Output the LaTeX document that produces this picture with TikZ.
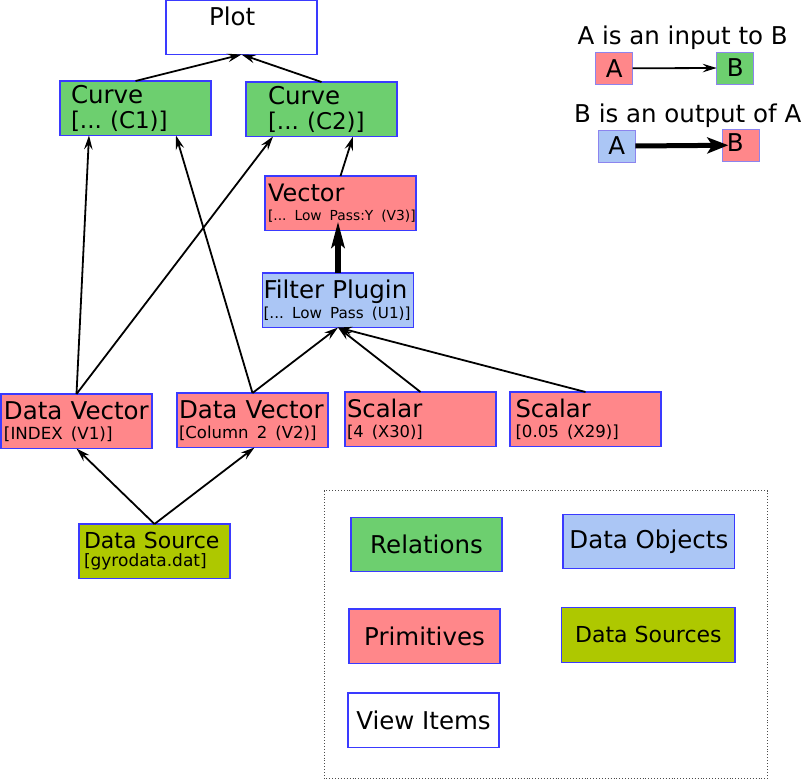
\documentclass[tikz,border=0pt]{standalone}
\usepackage{fontspec}
\setmainfont{DejaVu Sans}
\usetikzlibrary{arrows.meta,calc}
\definecolor{relgreen}{HTML}{6DCF6F}
\definecolor{primred}{HTML}{FF878A}
\definecolor{objblue}{HTML}{ABC6F5}
\definecolor{srcolive}{HTML}{AEC800}
\definecolor{edgeblue}{HTML}{3A3AFF}
\definecolor{edgelight}{HTML}{8C84EE}
\newcommand\fsz[2]{\fontsize{#1}{#2}\selectfont}
\frenchspacing
\tikzset{
  box/.style={draw=edgeblue, line width=1.2pt, minimum width=151pt, minimum height=54.5pt,
    anchor=north west, inner ysep=0pt, outer sep=0pt},
  rel/.style={box, fill=relgreen},
  prim/.style={box, fill=primred},
  obj/.style={box, fill=objblue},
  src/.style={box, fill=srcolive},
  view/.style={box, fill=white},
  tiny/.style={draw=edgelight, line width=1pt, minimum width=37pt, minimum height=32pt,
    anchor=north west, inner sep=0pt, outer sep=0pt, font=\fsz{24.5}{25}},
  conn/.style={line width=1.8pt, -{Stealth[length=14pt,width=8.5pt,inset=5pt]}},
  thickconn/.style={line width=5.7pt, -{Stealth[length=26pt,width=13pt,inset=5pt]}, shorten >=-9pt},
  keythick/.style={line width=5pt, -{Stealth[length=21pt,width=16pt,inset=5pt]}, shorten >=-6pt},
  ttl/.style={anchor=base west, inner sep=0pt, font=\fsz{24.5}{25}},
}
\begin{document}
\begin{tikzpicture}[x=1pt,y=-1pt]
\useasboundingbox (0,0) rectangle (804,779);

% main diagram
\node[view, inner xsep=43pt, text width=65pt, align=left, text depth=23pt, font=\fsz{24.5}{25}] (plot) at (166,0) {Plot};
\node[rel, inner xsep=11pt, text width=129pt, align=left, font=\fsz{24.5}{24.5}] (c1) at (60,81) {\mbox{Curve}\\{\fsz{23}{24.5}\mbox{[... (C1)]}}};
\node[rel, inner xsep=22pt, text width=107pt, align=left, font=\fsz{24.5}{24.5}] (c2) at (246,82) {\mbox{Curve}\\{\fsz{23}{24.5}\mbox{[... (C2)]}}};
\node[prim, inner xsep=3pt, text width=145pt, align=left, font=\fsz{24}{19.5}] (v3) at (265,176) {\mbox{Vector}\\{\fsz{13.8}{19.5}\mbox{[... Low Pass:Y (V3)]}}};
\node[obj, inner xsep=1pt, text width=149pt, align=left, font=\fsz{24.5}{20}] (filt) at (262.5,273) {\mbox{Filter Plugin}\\{\fsz{15.2}{20}\mbox{[... Low Pass (U1)]}}};
\node[prim, inner xsep=3pt, text width=145pt, align=left, font=\fsz{24.5}{20}] (v1) at (1,394) {\mbox{Data Vector}\\{\fsz{16.7}{20}\mbox{[INDEX (V1)]}}};
\node[prim, inner xsep=2pt, text width=147pt, align=left, font=\fsz{24.5}{20}] (v2) at (177,393) {\mbox{Data Vector}\\{\fsz{16.5}{20}\mbox{[Column 2 (V2)]}}};
\node[prim, inner xsep=2pt, text width=147pt, align=left, font=\fsz{24.3}{20}] (x30) at (345,392) {\mbox{Scalar}\\{\fsz{16.3}{20}\mbox{[4 (X30)]}}};
\node[prim, inner xsep=5.5pt, text width=140pt, align=left, font=\fsz{24.3}{20}] (x29) at (510,392) {\mbox{Scalar}\\{\fsz{16.6}{20}\mbox{[0.05 (X29)]}}};
\node[src, inner xsep=5pt, text width=141pt, align=left, font=\fsz{22}{18.6}] (ds) at (79,524) {\mbox{Data Source}\\{\fsz{17}{18.6}\mbox{[gyrodata.dat]}}};

% connectors
\draw[conn] (c1.north) -- (plot.south);
\draw[conn] (c2.north) -- (plot.south);
\draw[conn] (v1.north) -- ($(c1.south west)+(29,0)$);
\draw[conn] (v2.north) -- ($(c1.south west)+(116,0)$);
\draw[conn] (v1.north) -- ($(c2.south west)+(27,0)$);
\draw[conn] (v3.north) -- ($(c2.south west)+(107,0)$);
\draw[thickconn] (filt.north) -- (filt.north |- v3.south);
\draw[conn] (v2.north) -- (filt.south);
\draw[conn] (x30.north) -- (filt.south);
\draw[conn] (x29.north) -- (filt.south);
\draw[conn] (ds.north) -- (v1.south);
\draw[conn] (ds.north) -- ($(v2.south)+(2,0)$);

% top-right key
\node[ttl] (t1) at (577.3,45) {A is an input to B};
\node[tiny, fill=primred] (ka) at (595.7,52.3) {A};
\node[tiny, fill=relgreen] (kb) at (716.7,52) {B};
\draw[conn] (ka.east) -- (kb.west);
\node[ttl] (t2) at (574,122.7) {B is an output of A};
\node[tiny, fill=objblue] (ka2) at (598.3,130) {A};
\node[tiny, fill=primred, inner xsep=0pt, text width=30pt, align=left, text depth=6pt] (kb2) at (722.3,129.3) {\hspace*{1pt}B};
\draw[keythick] (ka2.east) -- (kb2.west);

% legend
\draw[dotted, line width=0.9pt, black!70] (324,490.7) rectangle (767.3,778.3);
\node[rel, font=\fsz{24.5}{25}] (lrel) at (351,517.3) {Relations};
\node[obj, minimum width=171.7pt, font=\fsz{24.5}{25}] (lobj) at (563,514.3) {Data Objects};
\node[prim, font=\fsz{24.5}{25}] (lprim) at (349,609) {Primitives};
\node[src, minimum width=173.3pt, font=\fsz{22}{25}] (lsrc) at (561.7,607.7) {Data Sources};
\node[view, font=\fsz{24.5}{25}] (lview) at (348,693) {View Items};
\end{tikzpicture}
\end{document}
